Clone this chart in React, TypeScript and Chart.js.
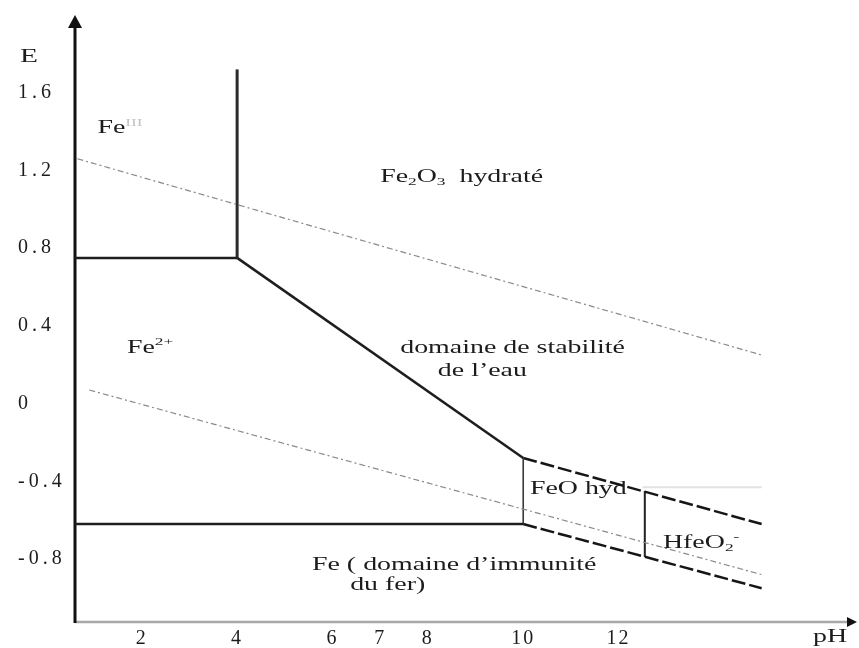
import React, { useEffect, useRef } from "react";
import { Chart, registerables } from "chart.js";

Chart.register(...registerables);

// ---- axes ----
const PH_TICKS = [2, 4, 6, 7, 8, 10, 12];
const E_TICKS = [1.6, 1.2, 0.8, 0.4, 0, -0.4, -0.8];
const PH_MIN = 0.6;
const PH_MAX = 17.0;
const E_MIN = -1.124;
const E_MAX = 2.0;

// ---- boundary lines (pH, E in V) ----
const FE3_FE2_PH = [0.6, 4];
const FE3_FE2_E = [0.75, 0.75];
const FE3_FE2O3_PH = [4, 4];
const FE3_FE2O3_E = [0.75, 1.72];
const FE2_FE2O3_PH = [4, 10];
const FE2_FE2O3_E = [0.75, -0.28];
const FE_FE2_PH = [0.6, 10];
const FE_FE2_E = [-0.62, -0.62];
const FE2_FEO_PH = [10, 10];
const FE2_FEO_E = [-0.28, -0.62];
const FE2O3_FEO_PH = [10, 15];
const FE2O3_FEO_E = [-0.28, -0.62];
const FE_FEO_PH = [10, 15];
const FE_FEO_E = [-0.62, -0.95];
const FEO_HFEO2_PH = [12.55, 12.55];
const FEO_HFEO2_E = [-0.45, -0.79];
const WATER_O2_PH = [0.65, 15];
const WATER_O2_E = [1.26, 0.25];
const WATER_H2_PH = [0.9, 15];
const WATER_H2_E = [0.07, -0.88];
const GUIDE_PH = [12.5, 15];
const GUIDE_E = [-0.43, -0.43];

// ---- region labels ----
type Seg = { t: string; k?: "sub" | "sup"; faint?: boolean };
const REGION_LABELS: { pH: number; E: number; segs: Seg[] }[] = [
  { pH: 1.07, E: 1.415, segs: [{ t: "Fe" }, { t: "III", k: "sup", faint: true }] },
  { pH: 7.0, E: 1.164, segs: [{ t: "Fe" }, { t: "2", k: "sub" }, { t: "O" }, { t: "3", k: "sub" }, { t: "  hydraté" }] },
  { pH: 1.69, E: 0.287, segs: [{ t: "Fe" }, { t: "2+", k: "sup" }] },
  { pH: 7.42, E: 0.287, segs: [{ t: "domaine de stabilité" }] },
  { pH: 8.21, E: 0.169, segs: [{ t: "de l’eau" }] },
  { pH: 10.14, E: -0.44, segs: [{ t: "FeO hyd" }] },
  { pH: 12.93, E: -0.718, segs: [{ t: "HfeO" }, { t: "2", k: "sub" }, { t: "-", k: "sup" }] },
  { pH: 5.57, E: -0.831, segs: [{ t: "Fe ( domaine d’immunité" }] },
  { pH: 6.37, E: -0.934, segs: [{ t: "du fer)" }] },
];
const X_TITLE = "pH";
const Y_TITLE = "E";

const FONT = "'Liberation Serif', 'Times New Roman', serif";
const TEXT_COLOR = "#1c1c1c";
const FONT_SIZE = 18;
const STRETCH = 1.55;

function drawRich(ctx: CanvasRenderingContext2D, x: number, y: number, segs: Seg[], size = FONT_SIZE) {
  ctx.save();
  (ctx as any).letterSpacing = "0px";
  ctx.translate(x, y);
  ctx.scale(STRETCH, 1);
  ctx.textBaseline = "middle";
  ctx.textAlign = "left";
  let cx = 0;
  for (const s of segs) {
    const small = s.k === "sub" || s.k === "sup";
    const fs = small ? size * 0.62 : size;
    ctx.font = `${fs}px ${FONT}`;
    ctx.fillStyle = s.faint ? "#c4c4c4" : TEXT_COLOR;
    const dy = s.k === "sub" ? size * 0.28 : s.k === "sup" ? -size * 0.32 : 0;
    ctx.fillText(s.t, cx, dy);
    cx += ctx.measureText(s.t).width;
  }
  ctx.restore();
}

const spacingPlugin = {
  id: "spacing",
  beforeDraw(chart: any) {
    // wide lettering for the y-axis tick labels
    chart.ctx.letterSpacing = "4px";
  },
  beforeDatasetsDraw(chart: any) {
    chart.ctx.letterSpacing = "0px";
  },
  afterDraw(chart: any) {
    chart.ctx.letterSpacing = "0px";
  },
};

const axesPlugin = {
  id: "axesArrows",
  beforeDatasetsDraw(chart: any) {
    const { ctx, chartArea } = chart;
    const { left, right, top, bottom } = chartArea;
    ctx.save();
    // x axis
    ctx.strokeStyle = "#a8a8a8";
    ctx.lineWidth = 2.5;
    ctx.beginPath();
    ctx.moveTo(left, bottom);
    ctx.lineTo(right - 8, bottom);
    ctx.stroke();
    ctx.fillStyle = "#111";
    ctx.beginPath();
    ctx.moveTo(right, bottom);
    ctx.lineTo(right - 10, bottom - 5);
    ctx.lineTo(right - 10, bottom + 5);
    ctx.closePath();
    ctx.fill();
    // y axis
    ctx.strokeStyle = "#111";
    ctx.lineWidth = 3;
    ctx.beginPath();
    ctx.moveTo(left, bottom + 1);
    ctx.lineTo(left, top + 10);
    ctx.stroke();
    ctx.beginPath();
    ctx.moveTo(left, top);
    ctx.lineTo(left - 7, top + 13);
    ctx.lineTo(left + 7, top + 13);
    ctx.closePath();
    ctx.fill();
    ctx.restore();
  },
};

const labelsPlugin = {
  id: "regionLabels",
  afterDatasetsDraw(chart: any) {
    const { ctx, scales, chartArea } = chart;
    const xs = scales.x;
    const ys = scales.y;
    for (const l of REGION_LABELS) {
      drawRich(ctx, xs.getPixelForValue(l.pH), ys.getPixelForValue(l.E), l.segs);
    }
    drawRich(ctx, ys.left + 2, chartArea.top + 42, [{ t: Y_TITLE }], 19);
    drawRich(ctx, chartArea.right - 44, chartArea.bottom + 15, [{ t: X_TITLE }]);
    // x-axis tick labels are drawn after this hook (ticks.z = 1)
    ctx.letterSpacing = "2px";
  },
};

function seg(pH: number[], E: number[], style: any) {
  return {
    data: pH.map((x, i) => ({ x, y: E[i] })),
    pointRadius: 0,
    fill: false,
    tension: 0,
    ...style,
  };
}

const SOLID = { borderColor: "#1e1e1e", borderWidth: 2.5 };
const THIN = { borderColor: "#3a3a3a", borderWidth: 1.6 };
const DASHED = { borderColor: "#161616", borderWidth: 2.5, borderDash: [14, 4] };
const DOTTED = { borderColor: "#8a8a8a", borderWidth: 1.2, borderDash: [6, 3, 2, 3] };

export default function App() {
  const ref = useRef<HTMLCanvasElement>(null);
  useEffect(() => {
    const canvas = ref.current;
    if (!canvas) return;
    const chart = new Chart(canvas, {
      type: "line",
      data: {
        datasets: [
          seg(GUIDE_PH, GUIDE_E, { borderColor: "#e2e2e2", borderWidth: 2 }),
          seg(WATER_O2_PH, WATER_O2_E, DOTTED),
          seg(WATER_H2_PH, WATER_H2_E, DOTTED),
          seg(FE3_FE2_PH, FE3_FE2_E, SOLID),
          seg(FE3_FE2O3_PH, FE3_FE2O3_E, { borderColor: "#2a2a2a", borderWidth: 3 }),
          seg(FE2_FE2O3_PH, FE2_FE2O3_E, SOLID),
          seg(FE_FE2_PH, FE_FE2_E, SOLID),
          seg(FE2_FEO_PH, FE2_FEO_E, THIN),
          seg(FE2O3_FEO_PH, FE2O3_FEO_E, DASHED),
          seg(FE_FEO_PH, FE_FEO_E, DASHED),
          seg(FEO_HFEO2_PH, FEO_HFEO2_E, { borderColor: "#222", borderWidth: 2 }),
        ] as any,
      },
      options: {
        animation: false,
        responsive: false,
        devicePixelRatio: 1,
        layout: { padding: { left: 18, top: 13, right: 2, bottom: 0 } },
        plugins: {
          legend: { display: false },
          tooltip: { enabled: false },
        },
        scales: {
          x: {
            type: "linear",
            min: PH_MIN,
            max: PH_MAX,
            grid: { display: false },
            border: { display: false },
            afterBuildTicks: (s: any) => {
              s.ticks = PH_TICKS.map((v) => ({ value: v }));
            },
            afterFit: (s: any) => {
              s.height = 26;
            },
            ticks: {
              z: 1,
              autoSkip: false,
              maxRotation: 0,
              padding: -3,
              color: TEXT_COLOR,
              font: { family: FONT, size: 20 },
              callback: (v: any) => String(v),
            },
          },
          y: {
            type: "linear",
            min: E_MIN,
            max: E_MAX,
            grid: { display: false },
            border: { display: false },
            afterBuildTicks: (s: any) => {
              s.ticks = E_TICKS.map((v) => ({ value: v }));
            },
            afterFit: (s: any) => {
              s.width = 57;
            },
            ticks: {
              autoSkip: false,
              crossAlign: "far",
              color: TEXT_COLOR,
              font: { family: FONT, size: 20 },
              callback: (v: any) => String(v),
            },
          },
        },
      } as any,
      plugins: [spacingPlugin, axesPlugin, labelsPlugin],
    });
    return () => chart.destroy();
  }, []);
  return (
    <div style={{ position: "fixed", left: 0, top: 0, width: 859, height: 648, background: "#fff" }}>
      <canvas ref={ref} width={859} height={648} style={{ display: "block" }} />
    </div>
  );
}
